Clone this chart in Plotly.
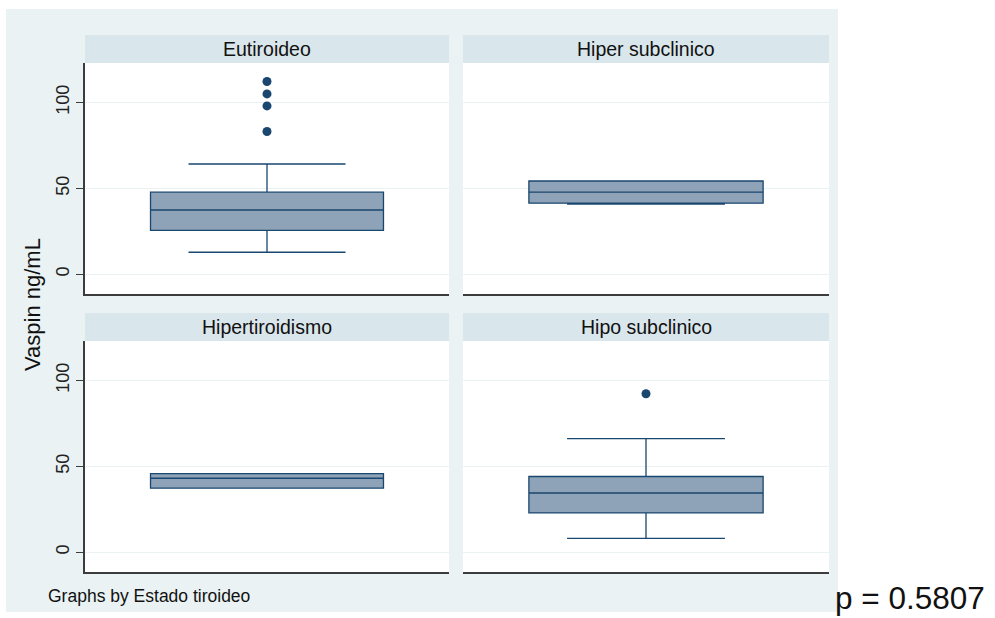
import plotly.graph_objects as go

# Vaspin (ng/mL) summary statistics by thyroid status
groups = ["Eutiroideo", "Hiper subclinico", "Hipertiroidismo", "Hipo subclinico"]
q1 = [25.6, 41.4, 37.3, 22.9]
median = [37.4, 47.8, 43.1, 34.5]
q3 = [47.8, 54.3, 45.8, 44.1]
lower_whisker = [12.8, 40.8, 37.3, 8.1]
upper_whisker = [64.2, 54.3, 45.8, 66.2]
outliers = [[83.1, 98.0, 105.0, 112.2], [], [], [92.3]]
y_ticks = [0, 50, 100]
y_title = "Vaspin ng/mL"
note_text = "Graphs by Estado tiroideo"
p_text = "p = 0.5807"

W, H = 995, 618
FONT = "Arial, Liberation Sans, sans-serif"
NAVY = "#1a476f"
BOX_FILL = "rgb(142,163,183)"
OUTER_BG = "#eaf2f3"
HEADER_BG = "#d9e6eb"
GRID = "#eaf2f3"
AXIS = "#3c3c3c"


def px_x(v):
    return v / W


def px_y(v):
    return 1 - v / H


# panel geometry in pixels: (left, right, top, bottom)
panels = [
    (85, 449, 63, 294),
    (463, 829, 63, 294),
    (85, 449, 341, 572),
    (463, 829, 341, 572),
]
HEADER_H = 28

fig = go.Figure()
layout = dict(
    width=W, height=H,
    margin=dict(l=0, r=0, t=0, b=0),
    paper_bgcolor="white",
    plot_bgcolor="rgba(0,0,0,0)",
    showlegend=False,
    font=dict(family=FONT, color="#111"),
)
shapes = [
    dict(type="rect", xref="paper", yref="paper",
         x0=px_x(6), x1=px_x(838), y0=px_y(612), y1=px_y(9),
         fillcolor=OUTER_BG, line=dict(width=0), layer="below"),
]
annotations = []

for i, name in enumerate(groups):
    l, r, t, b = panels[i]
    n = "" if i == 0 else str(i + 1)
    xa, ya = "x" + n, "y" + n
    left_col = i % 2 == 0

    fig.add_trace(go.Box(
        x=[0], q1=[q1[i]], median=[median[i]], q3=[q3[i]],
        lowerfence=[lower_whisker[i]], upperfence=[upper_whisker[i]],
        width=0.64, whiskerwidth=0.674,
        fillcolor=BOX_FILL, line=dict(color=NAVY, width=1.3),
        boxpoints=False, xaxis=xa, yaxis=ya, hoverinfo="skip",
    ))
    if outliers[i]:
        fig.add_trace(go.Scatter(
            x=[0] * len(outliers[i]), y=outliers[i], mode="markers",
            marker=dict(color=NAVY, size=9),
            xaxis=xa, yaxis=ya, hoverinfo="skip",
        ))

    layout["xaxis" + n] = dict(
        domain=[px_x(l), px_x(r)], range=[-0.5, 0.5], anchor=ya,
        showgrid=False, zeroline=False, showticklabels=False, ticks="",
        showline=True, linecolor=AXIS, linewidth=1.6, fixedrange=True,
    )
    layout["yaxis" + n] = dict(
        domain=[px_y(b), px_y(t)], range=[-11.5, 123], anchor=xa,
        tickvals=y_ticks, showgrid=True, gridcolor=GRID, gridwidth=1.2,
        zeroline=False,
        showline=left_col, linecolor=AXIS, linewidth=1.6,
        ticks="outside" if left_col else "", ticklen=7, tickcolor=AXIS,
        showticklabels=left_col, tickangle=-90,
        tickfont=dict(size=18, family=FONT, color="#222"),
        fixedrange=True,
    )

    # white plotting region
    shapes.append(dict(
        type="rect", xref="paper", yref="paper",
        x0=px_x(l), x1=px_x(r), y0=px_y(b), y1=px_y(t),
        fillcolor="white", line=dict(width=0), layer="below",
    ))
    # panel header strip
    shapes.append(dict(
        type="rect", xref="paper", yref="paper",
        x0=px_x(l), x1=px_x(r), y0=px_y(t), y1=px_y(t - HEADER_H),
        fillcolor=HEADER_BG, line=dict(width=0), layer="below",
    ))
    annotations.append(dict(
        text=name, xref="paper", yref="paper",
        x=px_x((l + r) / 2), y=px_y(t - HEADER_H / 2),
        xanchor="center", yanchor="middle", showarrow=False,
        font=dict(size=19.5, family=FONT, color="#111"),
    ))

annotations += [
    dict(text=y_title, xref="paper", yref="paper",
         x=px_x(32), y=px_y(305), xanchor="center", yanchor="middle",
         textangle=-90, showarrow=False,
         font=dict(size=22, family=FONT, color="#111")),
    dict(text=note_text, xref="paper", yref="paper",
         x=px_x(46), y=px_y(596), xanchor="left", yanchor="middle",
         showarrow=False, font=dict(size=17.5, family=FONT, color="#111")),
    dict(text=p_text, xref="paper", yref="paper",
         x=px_x(833), y=px_y(598), xanchor="left", yanchor="middle",
         showarrow=False, font=dict(size=31.5, family=FONT, color="#111")),
]

layout["shapes"] = shapes
layout["annotations"] = annotations
fig.update_layout(**layout)

fig.write_html("out.html")
